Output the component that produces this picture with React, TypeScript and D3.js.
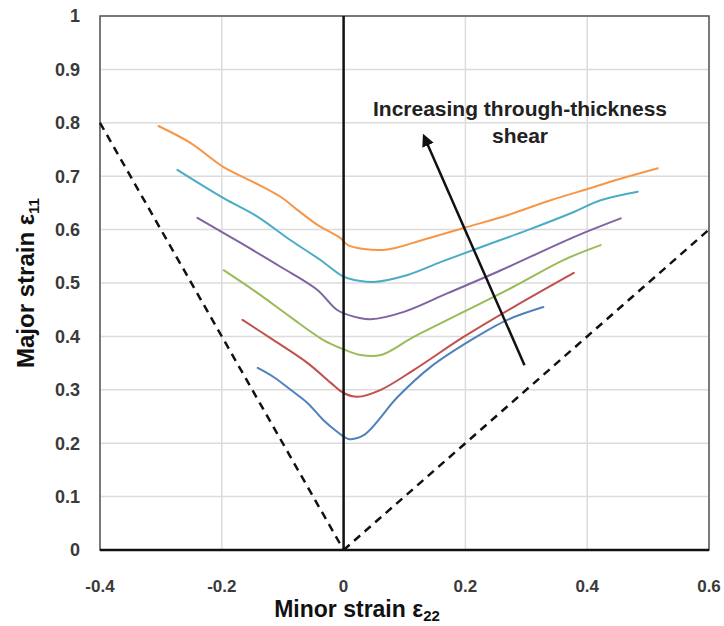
import React from "react";
import * as d3 from "d3";

const W = 724;
const H = 626;
const margin = { left: 100, right: 15, top: 16, bottom: 76 };

const xTicks = [-0.4, -0.2, 0, 0.2, 0.4, 0.6];
const yTicks = [0, 0.1, 0.2, 0.3, 0.4, 0.5, 0.6, 0.7, 0.8, 0.9, 1];
const xTickLabels = ["-0.4", "-0.2", "0", "0.2", "0.4", "0.6"];
const yTickLabels = ["0", "0.1", "0.2", "0.3", "0.4", "0.5", "0.6", "0.7", "0.8", "0.9", "1"];

const seriesNames = ["s6", "s5", "s4", "s3", "s2", "s1"];
const seriesColors = ["#F79646", "#4BACC6", "#8064A2", "#9BBB59", "#C0504D", "#4F81BD"];

const orangeX = [-0.304, -0.251, -0.197, -0.148, -0.103, -0.076, -0.043, -0.005, 0.007, 0.066, 0.131, 0.197, 0.269, 0.34, 0.406, 0.46, 0.516];
const orangeY = [0.794, 0.762, 0.717, 0.689, 0.661, 0.637, 0.609, 0.584, 0.571, 0.562, 0.581, 0.603, 0.627, 0.655, 0.678, 0.697, 0.715];

const tealX = [-0.273, -0.197, -0.141, -0.087, -0.038, -0.005, 0.007, 0.049, 0.105, 0.159, 0.225, 0.302, 0.378, 0.422, 0.483];
const tealY = [0.712, 0.659, 0.624, 0.58, 0.543, 0.515, 0.509, 0.502, 0.515, 0.539, 0.567, 0.599, 0.633, 0.655, 0.671];

const purpleX = [-0.24, -0.169, -0.103, -0.043, -0.01, 0.028, 0.044, 0.099, 0.171, 0.253, 0.378, 0.455];
const purpleY = [0.622, 0.575, 0.53, 0.487, 0.449, 0.434, 0.432, 0.446, 0.481, 0.521, 0.586, 0.621];

const greenX = [-0.197, -0.141, -0.087, -0.033, -0.005, 0.028, 0.061, 0.115, 0.197, 0.279, 0.361, 0.422];
const greenY = [0.524, 0.481, 0.436, 0.393, 0.378, 0.365, 0.365, 0.399, 0.446, 0.493, 0.543, 0.571];

const redX = [-0.166, -0.115, -0.059, -0.021, 0.0, 0.023, 0.061, 0.115, 0.197, 0.279, 0.378];
const redY = [0.431, 0.393, 0.35, 0.313, 0.294, 0.287, 0.3, 0.337, 0.399, 0.455, 0.519];

const blueX = [-0.141, -0.115, -0.087, -0.059, -0.033, -0.01, 0.008, 0.033, 0.089, 0.143, 0.209, 0.269, 0.328];
const blueY = [0.341, 0.324, 0.3, 0.275, 0.243, 0.221, 0.208, 0.215, 0.287, 0.343, 0.393, 0.431, 0.455];

const seriesXs = [orangeX, tealX, purpleX, greenX, redX, blueX];
const seriesYs = [orangeY, tealY, purpleY, greenY, redY, blueY];

const leftBoundX = [-0.4, 0];
const leftBoundY = [0.8, 0];
const rightBoundX = [0, 0.6];
const rightBoundY = [0, 0.6];

const arrowFrom = [0.297, 0.346];
const arrowTo = [0.132, 0.775];
const annotationLines = ["Increasing through-thickness", "shear"];

export default function App() {
  const x = d3.scaleLinear().domain([-0.4, 0.6]).range([margin.left, W - margin.right]);
  const y = d3.scaleLinear().domain([0, 1]).range([H - margin.bottom, margin.top]);

  const line = d3
    .line<[number, number]>()
    .x((d) => x(d[0]))
    .y((d) => y(d[1]))
    .curve(d3.curveCatmullRom.alpha(0.5));
  const straight = d3
    .line<[number, number]>()
    .x((d) => x(d[0]))
    .y((d) => y(d[1]));

  const zip = (xs: number[], ys: number[]) => xs.map((v, i) => [v, ys[i]] as [number, number]);

  const font = "'Liberation Sans', Arial, sans-serif";

  return (
    <svg width={W} height={H} style={{ position: "absolute", left: 0, top: 0, background: "#fff" }}>
      <defs>
        <marker id="arrowhead" viewBox="0 0 10 10" refX="8" refY="5" markerWidth="5" markerHeight="5" orient="auto">
          <path d="M0,0 L10,5 L0,10 z" fill="#111" />
        </marker>
      </defs>
      {/* gridlines */}
      {yTicks.map((t) => (
        <line key={"gy" + t} x1={x(-0.4)} x2={x(0.6)} y1={y(t)} y2={y(t)} stroke="#dcdcdc" strokeWidth={1.5} />
      ))}
      {xTicks.map((t) => (
        <line key={"gx" + t} x1={x(t)} x2={x(t)} y1={y(0)} y2={y(1)} stroke="#dcdcdc" strokeWidth={1.5} />
      ))}
      {/* frame */}
      <rect x={x(-0.4)} y={y(1)} width={x(0.6) - x(-0.4)} height={y(0) - y(1)} fill="none" stroke="#555" strokeWidth={1.5} />
      {/* dashed bounds */}
      <path d={straight(zip(leftBoundX, leftBoundY)) || ""} fill="none" stroke="#111" strokeWidth={2.5} strokeDasharray="8,6" />
      <path d={straight(zip(rightBoundX, rightBoundY)) || ""} fill="none" stroke="#111" strokeWidth={2.5} strokeDasharray="8,6" />
      {/* series */}
      {seriesXs.map((xs, i) => (
        <path
          key={seriesNames[i]}
          d={line(zip(xs, seriesYs[i])) || ""}
          fill="none"
          stroke={seriesColors[i]}
          strokeWidth={2}
          strokeLinejoin="round"
          strokeLinecap="round"
        />
      ))}
      {/* axes lines */}
      <line x1={x(0)} x2={x(0)} y1={y(0)} y2={y(1)} stroke="#111" strokeWidth={2.5} />
      <line x1={x(-0.4)} x2={x(0.6)} y1={y(0)} y2={y(0)} stroke="#111" strokeWidth={2.5} />
      {/* tick labels */}
      {yTicks.map((t, i) => (
        <text key={"ty" + t} x={80} y={y(t)} dy="0.36em" textAnchor="end" fontFamily={font} fontWeight="bold" fontSize={18} fill="#3a3a3a">
          {yTickLabels[i]}
        </text>
      ))}
      {xTicks.map((t, i) => (
        <text key={"tx" + t} x={x(t)} y={592} textAnchor="middle" fontFamily={font} fontWeight="bold" fontSize={17} fill="#3a3a3a">
          {xTickLabels[i]}
        </text>
      ))}
      {/* axis titles */}
      <text x={357} y={617} textAnchor="middle" fontFamily={font} fontWeight="bold" fontSize={23} fill="#111">
        Minor strain ε<tspan fontSize={15} dy={4}>22</tspan>
      </text>
      <text
        transform={`translate(34, ${y(0.5)}) rotate(-90)`}
        textAnchor="middle"
        fontFamily={font}
        fontWeight="bold"
        fontSize={24}
        fill="#111"
      >
        Major strain ε<tspan fontSize={15} dy={5}>11</tspan>
      </text>
      {/* arrow */}
      <line
        x1={x(arrowFrom[0])}
        y1={y(arrowFrom[1])}
        x2={x(arrowTo[0])}
        y2={y(arrowTo[1])}
        stroke="#111"
        strokeWidth={2.5}
        markerEnd="url(#arrowhead)"
      />
      {/* annotation */}
      {annotationLines.map((l, i) => (
        <text
          key={l}
          x={520}
          y={116 + i * 27}
          textAnchor="middle"
          fontFamily={font}
          fontWeight="bold"
          fontSize={21}
          fill="#222"
        >
          {l}
        </text>
      ))}
    </svg>
  );
}
